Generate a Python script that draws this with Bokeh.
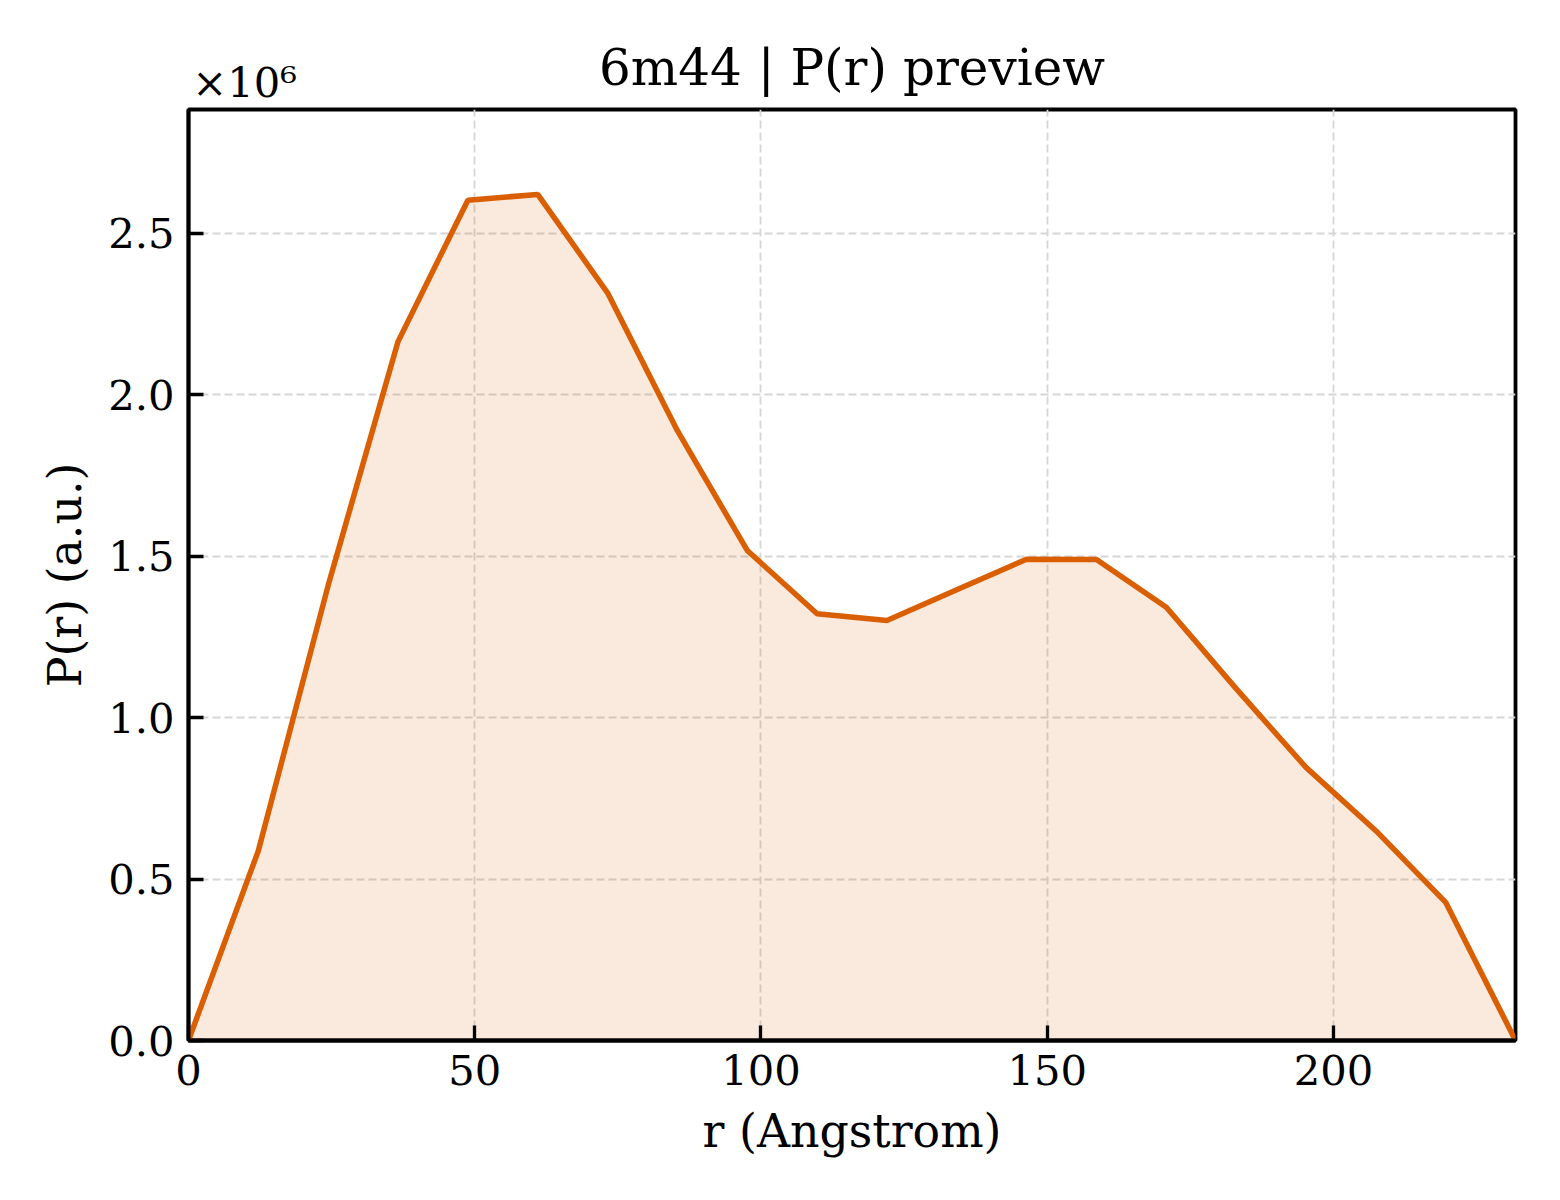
from bokeh.plotting import figure
from bokeh.models import Range1d, FixedTicker, CustomJSTickFormatter, LinearAxis
from bokeh.embed import file_html
from bokeh.resources import INLINE

# ---- data ----
title_text = "6m44 | P(r) preview"
x_label = "r (Angstrom)"
y_label = "P(r) (a.u.)"
scale_note = "×10⁶"

r_angstrom = [0.0, 12.2, 24.4, 36.6, 48.8, 61.0, 73.2, 85.4, 97.6, 109.8,
              122.0, 134.2, 146.4, 158.6, 170.8, 183.0, 195.2, 207.4, 219.6, 231.8]
p_r = [0, 588000, 1410000, 2165000, 2603000, 2621000, 2316000, 1889000, 1518000, 1322000,
       1301000, 1396000, 1491000, 1490000, 1342000, 1090000, 846000, 650000, 428000, 0]

x_ticks = [0, 50, 100, 150, 200]
y_ticks = [0, 500000, 1000000, 1500000, 2000000, 2500000]
x_limits = (0, 231.8)
y_limits = (0, 2884000)

FONT = "DejaVu Serif"
LINE_COLOR = "#D95F02"
SPINE_W = 3.8
NOTE_X = 9.8  # where the offset note "×10⁶" is centred, above the top-left corner

p = figure(width=1544, height=1184, output_backend="svg", toolbar_location=None,
           x_range=Range1d(*x_limits), y_range=Range1d(*y_limits),
           min_border_left=188, min_border_right=29, min_border_top=109,
           min_border_bottom=144, background_fill_color="white",
           border_fill_color="white")
p.title.visible = False

p.varea(x=r_angstrom, y1=[0] * len(p_r), y2=p_r, fill_color=LINE_COLOR, fill_alpha=0.13)
p.line(x=r_angstrom, y=p_r, line_color=LINE_COLOR, line_width=5.5)

p.xaxis.ticker = FixedTicker(ticks=x_ticks)
p.yaxis.ticker = FixedTicker(ticks=y_ticks)
p.yaxis.formatter = CustomJSTickFormatter(code="return (tick / 1e6).toFixed(1);")

p.xaxis.axis_label = x_label
p.yaxis.axis_label = y_label

for ax in (p.xaxis, p.yaxis):
    ax.axis_line_width = SPINE_W
    ax.axis_line_color = "black"
    ax.major_tick_line_width = 3.3
    ax.major_tick_line_color = "black"
    ax.major_tick_in = 15
    ax.major_tick_out = 0
    ax.minor_tick_line_color = None
    ax.major_label_text_font = FONT
    ax.major_label_text_font_size = "41.7px"
    ax.major_label_text_color = "black"
    ax.major_label_standoff = 14
    ax.axis_label_text_font = FONT
    ax.axis_label_text_font_size = "45.8px"
    ax.axis_label_text_font_style = "normal"
    ax.axis_label_text_color = "black"
p.xaxis.axis_label_standoff = 16
p.yaxis.axis_label_standoff = 13

# top band: offset note (as a tick label) and the title (as the band's label)
top = LinearAxis(ticker=FixedTicker(ticks=[NOTE_X]),
                 formatter=CustomJSTickFormatter(args=dict(note=scale_note), code="return note;"),
                 axis_label=title_text)
top.axis_line_color = None
top.major_tick_line_color = None
top.minor_tick_line_color = None
top.major_tick_in = 0
top.major_tick_out = 0
top.major_label_text_font = FONT
top.major_label_text_font_size = "41.7px"
top.major_label_text_color = "black"
top.major_label_standoff = 3
top.axis_label_text_font = FONT
top.axis_label_text_font_size = "50px"
top.axis_label_text_font_style = "normal"
top.axis_label_text_color = "black"
top.axis_label_standoff = -42
p.add_layout(top, "above")

p.grid.grid_line_color = "#d6d6d6"
p.grid.grid_line_width = 1.8
p.grid.grid_line_dash = "8 4"

p.outline_line_color = "black"
p.outline_line_width = SPINE_W
p.outline_line_alpha = 1.0

open("out.html", "w").write(file_html(p, INLINE))
